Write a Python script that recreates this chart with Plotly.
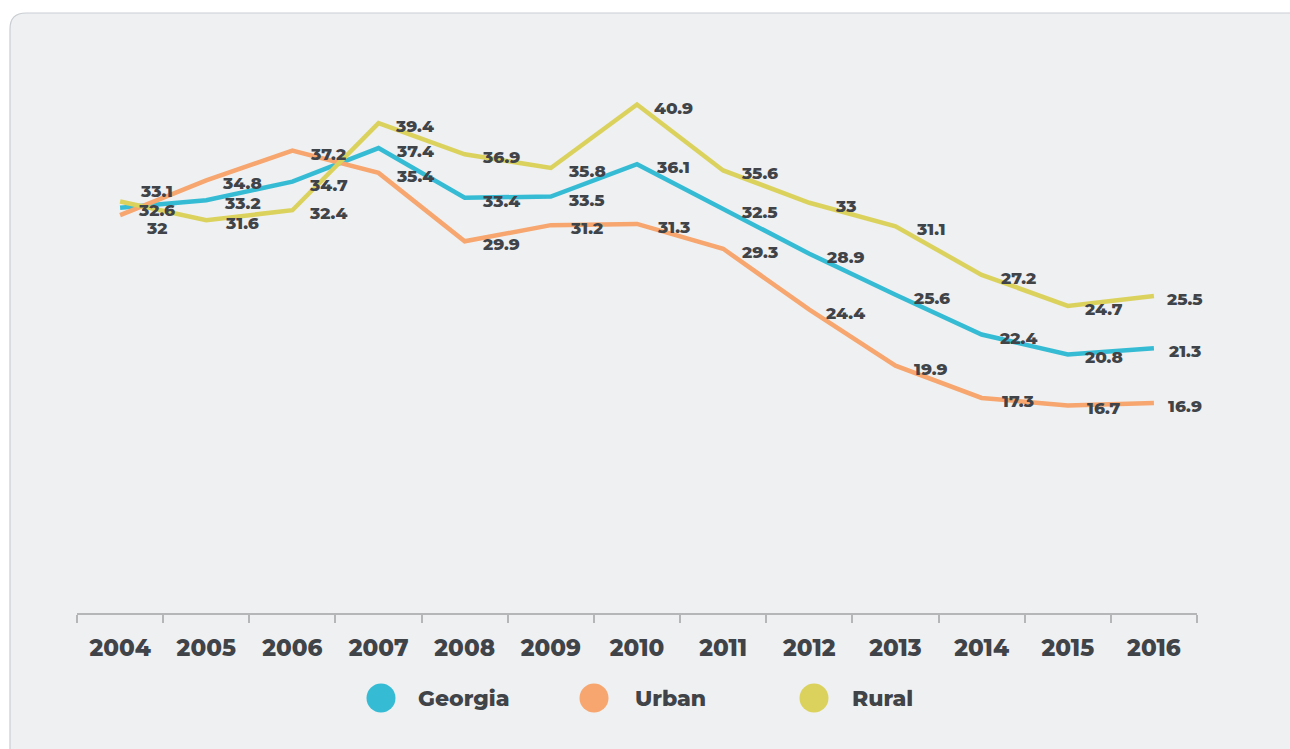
import plotly.graph_objects as go

years = ["2004", "2005", "2006", "2007", "2008", "2009", "2010",
         "2011", "2012", "2013", "2014", "2015", "2016"]
georgia = [32.6, 33.2, 34.7, 37.4, 33.4, 33.5, 36.1, 32.5, 28.9, 25.6, 22.4, 20.8, 21.3]
urban = [32.0, 34.8, 37.2, 35.4, 29.9, 31.2, 31.3, 29.3, 24.4, 19.9, 17.3, 16.7, 16.9]
rural = [33.1, 31.6, 32.4, 39.4, 36.9, 35.8, 40.9, 35.6, 33.0, 31.1, 27.2, 24.7, 25.5]

series_names = ["Georgia", "Urban", "Rural"]
series_values = [georgia, urban, rural]
series_colors = ["#35bcd4", "#f6a66e", "#dbd25e"]

# label vertical offsets in pixels (positive = down) for crowded first year
label_dy = {
    ("Georgia", 0): 2, ("Urban", 0): 13, ("Rural", 0): -11,
}

TEXT = "#404347"
FONT = "Montserrat, Lato, 'Open Sans', sans-serif"

W, H = 1290, 749
L, R, T, B = 77, 93, 66, 136
pw, ph = W - L - R, H - T - B

def px(x):
    return (x - L) / pw

def py(y):
    return (H - B - y) / ph

fig = go.Figure()
for name, vals, col in zip(series_names, series_values, series_colors):
    fig.add_trace(go.Scatter(x=years, y=vals, mode="lines", name=name,
                             line=dict(color=col, width=4.5), showlegend=False,
                             hoverinfo="x+y+name"))

annotations = []
for name, vals in zip(series_names, series_values):
    for i, v in enumerate(vals):
        dy = label_dy.get((name, i), 3)
        dx = 31 if i == len(years) - 1 else 36
        annotations.append(dict(x=i, y=v, xref="x", yref="y", text=f"{v:g}",
                                showarrow=False, xshift=dx, yshift=-dy,
                                font=dict(family=FONT, size=17, color=TEXT, weight=800),
                                xanchor="center", yanchor="middle"))

# legend (manual)
shapes = []
leg_cx = [381, 594, 814]
leg_tx = [416, 633, 850]
leg_y = 698
r = 14.5
for name, col, cx, tx in zip(series_names, series_colors, leg_cx, leg_tx):
    shapes.append(dict(type="circle", xref="paper", yref="paper",
                       x0=px(cx - r), x1=px(cx + r), y0=py(leg_y + r), y1=py(leg_y - r),
                       fillcolor=col, line=dict(width=0)))
    annotations.append(dict(x=px(tx), y=py(leg_y), xref="paper", yref="paper",
                            text=name, showarrow=False, xanchor="left", yanchor="middle",
                            font=dict(family=FONT, size=22, color=TEXT, weight=800)))

# rounded background panel
x0, y0 = px(10), py(13)
x1, yb = px(1320), py(800)
rx, ry = 16 / pw, 16 / ph
path = (f"M {x0},{yb} L {x0},{y0 - ry} Q {x0},{y0} {x0 + rx},{y0} "
        f"L {x1},{y0} L {x1},{yb} Z")
shapes.insert(0, dict(type="path", xref="paper", yref="paper", path=path,
                      fillcolor="#eff0f2", line=dict(color="#c9ced3", width=1.2),
                      layer="below"))

fig.update_layout(
    width=W, height=H,
    margin=dict(l=L, r=R, t=T, b=B),
    paper_bgcolor="white", plot_bgcolor="rgba(0,0,0,0)",
    shapes=shapes, annotations=annotations,
    showlegend=False,
    xaxis=dict(type="category", range=[-0.5, 12.5], showgrid=False, zeroline=False,
               showline=True, linecolor="#b4b6b8", linewidth=1.5,
               ticks="outside", tickson="boundaries", ticklen=8, tickcolor="#b4b6b8",
               tickwidth=1.5, ticklabelstandoff=14,
               tickfont=dict(family=FONT, size=23, color=TEXT, weight=800)),
    yaxis=dict(range=[0, 44], visible=False, showgrid=False, zeroline=False),
)

fig.write_html("out.html", config={"displayModeBar": False},
               post_script="document.body.style.margin='0';document.body.style.overflow='hidden';")
